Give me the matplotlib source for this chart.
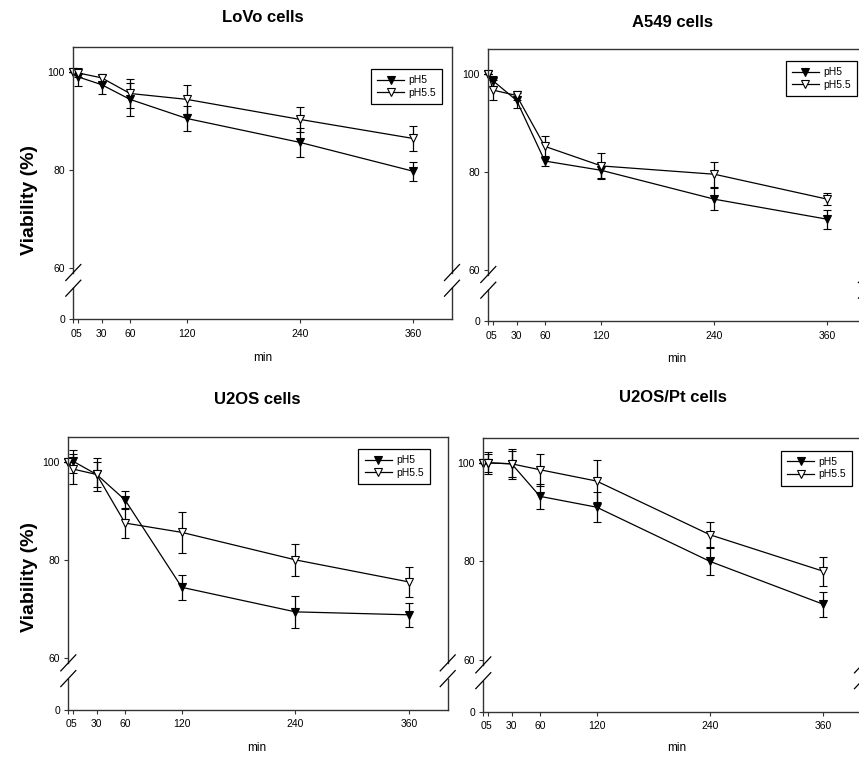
import matplotlib
matplotlib.use("Agg")
import matplotlib.pyplot as plt
from matplotlib.lines import Line2D
from matplotlib.transforms import blended_transform_factory

plt.rcParams['font.family'] = ['Liberation Sans', 'DejaVu Sans']

# ---------------- data ----------------
time_min = [0, 5, 30, 60, 120, 240, 360]
x_tick_labels = ['0', '5', '30', '60', '120', '240', '360']
y_tick_values = [100, 80, 60]
y_tick_labels = ['100', '80', '60']
zero_label = '0'
series_labels = ['pH5', 'pH5.5']
panel_titles = ['LoVo cells', 'A549 cells', 'U2OS cells', 'U2OS/Pt cells']

lovo_ph5 = [100, 99.0, 97.4, 94.4, 90.5, 85.6, 79.7]
lovo_ph5_err = [0, 1.9, 1.9, 3.4, 2.6, 3.0, 1.9]
lovo_ph55 = [100, 99.8, 98.8, 95.6, 94.4, 90.3, 86.4]
lovo_ph55_err = [0, 0.9, 0.8, 2.9, 3.0, 2.6, 2.5]

a549_ph5 = [100, 98.6, 94.6, 82.2, 80.3, 74.4, 70.3]
a549_ph5_err = [0, 1.0, 1.6, 1.1, 1.5, 2.3, 1.9]
a549_ph55 = [100, 96.7, 95.6, 85.2, 81.2, 79.5, 74.4]
a549_ph55_err = [0, 2.1, 0.9, 2.2, 2.6, 2.6, 1.2]

u2os_ph5 = [100, 100.1, 97.4, 92.2, 74.4, 69.4, 68.8]
u2os_ph5_err = [0, 2.3, 2.6, 1.8, 2.6, 3.3, 2.4]
u2os_ph55 = [100, 98.5, 97.4, 87.5, 85.6, 80.0, 75.5]
u2os_ph55_err = [0, 3.1, 3.4, 3.0, 4.2, 3.2, 3.0]

u2ospt_ph5 = [100, 100, 99.8, 93.2, 91.0, 80.0, 71.3]
u2ospt_ph5_err = [0, 1.8, 2.6, 2.5, 3.0, 2.7, 2.5]
u2ospt_ph55 = [100, 100, 99.8, 98.6, 96.3, 85.4, 78.0]
u2ospt_ph55_err = [0, 2.2, 3.0, 3.2, 4.3, 2.5, 2.9]

panels = [
    (lovo_ph5, lovo_ph5_err, lovo_ph55, lovo_ph55_err),
    (a549_ph5, a549_ph5_err, a549_ph55, a549_ph55_err),
    (u2os_ph5, u2os_ph5_err, u2os_ph55, u2os_ph55_err),
    (u2ospt_ph5, u2ospt_ph5_err, u2ospt_ph55, u2ospt_ph55_err),
]

# ---------------- layout ----------------
W, H = 859, 759
DPI = 100
fig = plt.figure(figsize=(W / DPI, H / DPI), dpi=DPI)

# (left, top, right, bottom) in pixels
boxes = [
    (73.3, 47, 452, 319),
    (488.3, 49, 866, 321),
    (68.3, 436.7, 447.7, 709.5),
    (483.3, 437.7, 862, 711.7),
]
legend_anchor = [(0.974, 0.919), (0.976, 0.956), (0.953, 0.955), (0.974, 0.953)]
title_pos = [(263, 17.5), (673, 22.5), (257, 400), (672.5, 398)]
xlabel_pos = [(263, 358), (677, 359), (257, 748), (677, 748)]
ylabel_pos = [(30, 200), (30, 577)]

X_MAX = 401
Y_TOP = 105.1
Y_BREAK = 49.5          # position where "0" is drawn below the axis break
BREAK_Y1, BREAK_Y2 = 59.0, 55.8
SPINE_C = '#333333'

marker_styles = [dict(mfc='black'), dict(mfc='white')]

for i, (box, data) in enumerate(zip(boxes, panels)):
    l, t, r, b = box
    ax = fig.add_axes([l / W, 1 - b / H, (r - l) / W, (b - t) / H])
    ax.set_xlim(0, X_MAX)
    ax.set_ylim(Y_BREAK, Y_TOP)
    ph5, ph5e, ph55, ph55e = data

    handles = []
    for k, (vals, errs) in enumerate([(ph5, ph5e), (ph55, ph55e)]):
        ax.errorbar(time_min, vals, yerr=errs, color='black', lw=0.9,
                    marker='v', ms=6, mfc=marker_styles[k]['mfc'], mec='black',
                    mew=0.8, capsize=3.2, elinewidth=0.9, capthick=0.9,
                    clip_on=False, zorder=3 + k)
        handles.append(Line2D([], [], color='black', lw=0.9, marker='v', ms=6,
                              mfc=marker_styles[k]['mfc'], mec='black',
                              mew=0.8, label=series_labels[k]))

    ax.set_xticks(time_min)
    ax.set_xticklabels(x_tick_labels)
    ax.set_yticks(y_tick_values + [Y_BREAK])
    ax.set_yticklabels(y_tick_labels + [zero_label])
    ax.tick_params(direction='out', length=3, width=0.8, labelsize=7.5,
                   pad=3, color=SPINE_C)
    ax.tick_params(axis='x', pad=4)

    for s in ['left', 'right']:
        ax.spines[s].set_visible(False)
    for s in ['top', 'bottom']:
        ax.spines[s].set_color(SPINE_C)
        ax.spines[s].set_linewidth(1.0)

    # broken vertical spines
    tr = blended_transform_factory(ax.transAxes, ax.transData)
    for xs in (0, 1):
        ax.plot([xs, xs], [Y_TOP, BREAK_Y1], transform=tr, color=SPINE_C,
                lw=1.0, clip_on=False, zorder=5)
        ax.plot([xs, xs], [BREAK_Y2, Y_BREAK], transform=tr, color=SPINE_C,
                lw=1.0, clip_on=False, zorder=5)
    # slashes (pixel space)
    for xs_px in (l, r):
        for yc_val in (BREAK_Y1, BREAK_Y2):
            yc_px = b - (yc_val - Y_BREAK) / (Y_TOP - Y_BREAK) * (b - t)
            x0, x1 = xs_px - 7.5, xs_px + 7.5
            y0, y1 = yc_px + 8, yc_px - 8
            fig.add_artist(Line2D([x0 / W, x1 / W], [1 - y0 / H, 1 - y1 / H],
                                  transform=fig.transFigure, color='black',
                                  lw=0.9))

    leg = ax.legend(handles=handles, loc='upper right',
                    bbox_to_anchor=legend_anchor[i],
                    borderaxespad=0, fontsize=7.5, frameon=True, fancybox=False,
                    edgecolor='black', framealpha=1, handlelength=2.6,
                    handletextpad=0.4, labelspacing=0.25, borderpad=0.6,
                    numpoints=1)
    leg.get_frame().set_linewidth(0.9)

    tx, ty = title_pos[i]
    fig.text(tx / W, 1 - ty / H, panel_titles[i], ha='center', va='center',
             fontsize=12, fontweight='bold')
    mx, my = xlabel_pos[i]
    fig.text(mx / W, 1 - my / H, 'min', ha='center', va='center', fontsize=8.5)

for (yx, yy) in ylabel_pos:
    fig.text(yx / W, 1 - yy / H, 'Viability (%)', rotation=90, ha='center',
             va='center', fontsize=14, fontweight='bold')

fig.savefig('out.png', dpi=DPI)
